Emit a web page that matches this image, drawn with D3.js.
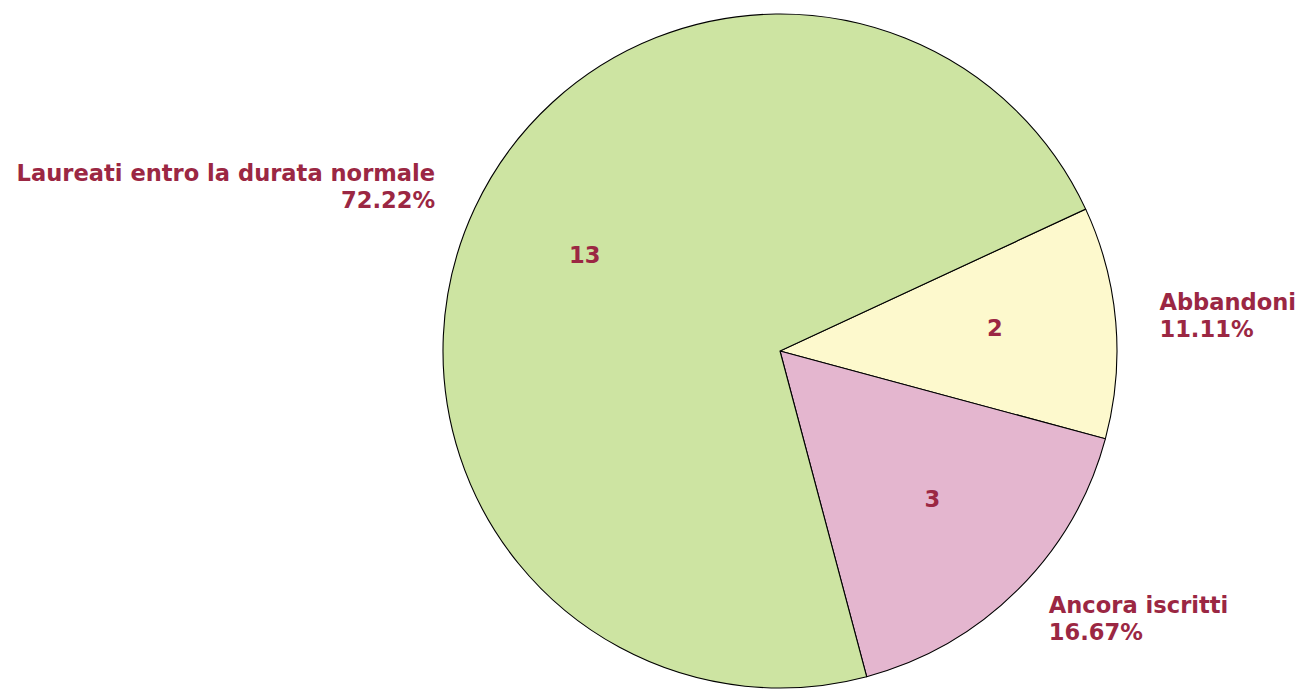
<!DOCTYPE html>
<html>
<head>
<meta charset="utf-8">
<script src="https://cdn.jsdelivr.net/npm/d3@7"></script>
<style>
  body { margin: 0; background: #fff; }
  svg { display: block; }
</style>
</head>
<body>
<svg id="chart" width="1304" height="697"></svg>
<script>
// Slice data, in drawing order (clockwise from the Abbandoni slice)
const categories = ["Abbandoni", "Ancora iscritti", "Laureati entro la durata normale"];
const counts = [2, 3, 13];
const percentLabels = ["11.11%", "16.67%", "72.22%"];
const sliceColors = ["#fdf9cd", "#e4b6cf", "#cde4a2"];

const width = 1304, height = 697;
const cx = 780, cy = 351, radius = 337;
const textColor = "#9b2743";
const font = "'DejaVu Sans', Verdana, sans-serif";
const fontSize = 22.6;

const svg = d3.select("#chart");
const g = svg.append("g").attr("transform", `translate(${cx},${cy})`);

// first slice starts ~25 degrees above the horizontal on the right
const start = (65.1 / 180) * Math.PI;
const pie = d3.pie()
    .sort(null)
    .startAngle(start)
    .endAngle(start + 2 * Math.PI);

const arcs = pie(counts);
const arc = d3.arc().innerRadius(0).outerRadius(radius);

g.selectAll("path.slice")
    .data(arcs)
    .enter().append("path")
    .attr("class", "slice")
    .attr("d", arc)
    .attr("fill", (d, i) => sliceColors[i])
    .attr("stroke", "#000")
    .attr("stroke-width", 1.1);

// values inside slices
const inner = d3.arc().innerRadius(radius * 0.64).outerRadius(radius * 0.64);
g.selectAll("text.value")
    .data(arcs)
    .enter().append("text")
    .attr("class", "value")
    .attr("transform", d => `translate(${inner.centroid(d)})`)
    .attr("text-anchor", "middle")
    .attr("dy", 3)
    .style("font-family", font)
    .style("font-weight", "bold")
    .style("font-size", fontSize + "px")
    .attr("fill", textColor)
    .text(d => d.data);

// outer labels: name + percent
const outer = d3.arc().innerRadius(radius * 1.13).outerRadius(radius * 1.13);
const labels = g.selectAll("text.label")
    .data(arcs)
    .enter().append("text")
    .attr("class", "label")
    .attr("transform", d => `translate(${outer.centroid(d)})`)
    .attr("text-anchor", d => ((d.startAngle + d.endAngle) / 2) % (2 * Math.PI) < Math.PI ? "start" : "end")
    .style("font-family", font)
    .style("font-weight", "bold")
    .style("font-size", fontSize + "px")
    .attr("fill", textColor);

labels.append("tspan")
    .attr("x", 0)
    .attr("dy", -8)
    .text((d, i) => categories[i]);
labels.append("tspan")
    .attr("x", 0)
    .attr("dy", 27)
    .text((d, i) => percentLabels[i]);
</script>
</body>
</html>
